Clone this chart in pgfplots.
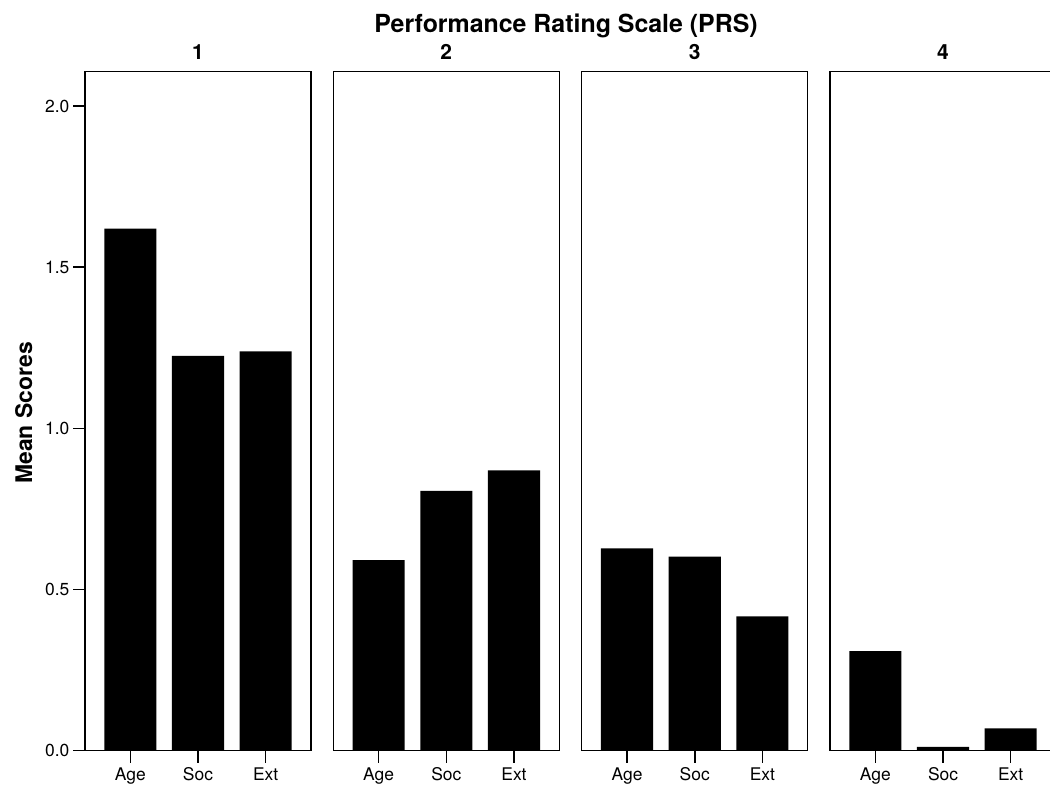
\documentclass[border=0pt]{standalone}
\usepackage{fontspec}
\setmainfont{TeX Gyre Heros}
\usepackage{pgfplots}
\usepackage{pgfplotstable}
\pgfplotsset{compat=1.18}

% Mean scores per PRS level (x: 1 = Age, 2 = Soc, 3 = Ext)
\pgfplotstableread{
x y
1 1.620
2 1.225
3 1.239
}\prsOne
\pgfplotstableread{
x y
1 0.591
2 0.806
3 0.870
}\prsTwo
\pgfplotstableread{
x y
1 0.628
2 0.602
3 0.417
}\prsThree
\pgfplotstableread{
x y
1 0.309
2 0.012
3 0.069
}\prsFour

\pgfplotsset{
  prspanel/.style={
    scale only axis, width=226bp, height=679bp,
    anchor=south west,
    xmin=0.33, xmax=3.67, ymin=0, ymax=2.107,
    xtick={1,2,3}, xticklabels={Age,Soc,Ext},
    xtick pos=left, ytick pos=left,
    ytick=\empty,
    tick align=outside,
    major tick length=12bp,
    every tick/.style={black, line width=1.6bp},
    axis line style={line width=1.2bp},
    tick label style={font=\fontsize{17.5}{20}\selectfont},
    xticklabel style={inner sep=2bp, yshift=-3bp},
    yticklabel style={inner sep=2bp, xshift=-1.5bp},
    /pgf/number format/assume math mode=true,
    title style={font=\bfseries\fontsize{21}{24}\selectfont, anchor=base, at={(0.5,1)}, yshift=6.7bp},
    ybar, bar width=0.77,
  },
  prsbar/.style={fill=black, draw=none},
}

\begin{document}
\begin{tikzpicture}[x=1bp, y=1bp]
  \begin{axis}[prspanel, at={(85bp,36.3bp)}, title={1},
      ytick={0,0.5,1,1.5,2}, yticklabels={0.0,0.5,1.0,1.5,2.0}]
    \addplot[prsbar] table[x=x, y=y] {\prsOne};
  \end{axis}
  \begin{axis}[prspanel, at={(333.3bp,36.3bp)}, title={2}]
    \addplot[prsbar] table[x=x, y=y] {\prsTwo};
  \end{axis}
  \begin{axis}[prspanel, at={(581.7bp,36.3bp)}, title={3}]
    \addplot[prsbar] table[x=x, y=y] {\prsThree};
  \end{axis}
  \begin{axis}[prspanel, at={(830bp,36.3bp)}, title={4}]
    \addplot[prsbar] table[x=x, y=y] {\prsFour};
  \end{axis}

  \node[anchor=base, font=\bfseries\fontsize{25}{28}\selectfont, inner sep=0pt]
    at (566,754.3) {Performance Rating Scale (PRS)};
  \node[anchor=base, rotate=90, font=\bfseries\fontsize{23}{26}\selectfont, inner sep=0pt]
    at (32,374) {Mean Scores};

  \pgfresetboundingbox
  \path[use as bounding box] (0,0) rectangle (1050,787);
\end{tikzpicture}
\end{document}
